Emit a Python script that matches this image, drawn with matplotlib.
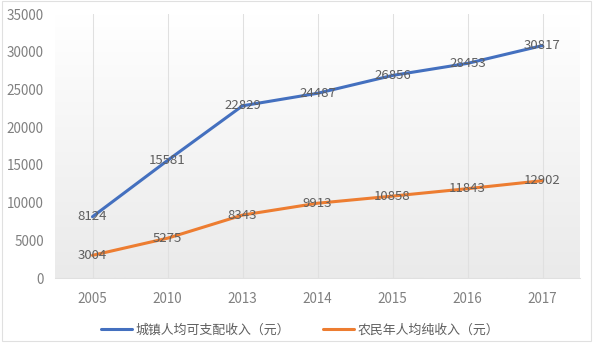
import numpy as np
import matplotlib
matplotlib.use("Agg")
import matplotlib.pyplot as plt
from matplotlib.patches import Rectangle


# ----------------------------------------------------------------------
# Data
# ----------------------------------------------------------------------
YEARS = ["2005", "2010", "2013", "2014", "2015", "2016", "2017"]
URBAN_INCOME = [8124, 15581, 22829, 24487, 26856, 28453, 30817]
RURAL_INCOME = [3004, 5275, 8343, 9913, 10858, 11843, 12902]
URBAN_LABEL = "城镇人均可支配收入（元）"
RURAL_LABEL = "农民年人均纯收入（元）"
Y_TICKS = [0, 5000, 10000, 15000, 20000, 25000, 30000, 35000]

BLUE = "#4470BF"
ORANGE = "#ED7D31"
TICK_COLOUR = "#808080"
LABEL_COLOUR = "#5F5F5F"
GRID_COLOUR = "#E0E0E0"

plt.rcParams["font.family"] = ["Noto Sans CJK SC", "DejaVu Sans"]


def main() -> None:
    fig = plt.figure(figsize=(6.0, 3.46), dpi=100)
    ax = fig.add_axes([55 / 600, 1 - 278 / 346, 525 / 600, 264 / 346])

    x = np.arange(len(YEARS))
    ax.set_xlim(-0.5, len(YEARS) - 0.5)
    ax.set_ylim(0, 35000)

    # plot area fill: white at the top fading to light grey at the bottom
    grad = np.linspace(1.0, 0.0, 256).reshape(-1, 1)
    ax.imshow(
        grad,
        extent=(-0.5, len(YEARS) - 0.5, 0, 35000),
        aspect="auto",
        cmap=matplotlib.colors.LinearSegmentedColormap.from_list(
            "plotfill", ["#EAEAEA", "#FFFFFF"]
        ),
        zorder=0,
    )

    for xi in x:
        ax.axvline(xi, color=GRID_COLOUR, linewidth=0.75, zorder=1)

    ax.plot(x, URBAN_INCOME, color=BLUE, linewidth=2.2, label=URBAN_LABEL,
            solid_capstyle="round", zorder=3)
    ax.plot(x, RURAL_INCOME, color=ORANGE, linewidth=2.2, label=RURAL_LABEL,
            solid_capstyle="round", zorder=3)

    for xi, v in zip(x, URBAN_INCOME):
        ax.text(xi, v, str(v), ha="center", va="center", fontsize=9.5,
                color=LABEL_COLOUR, zorder=4)
    for xi, v in zip(x, RURAL_INCOME):
        ax.text(xi, v, str(v), ha="center", va="center", fontsize=9.5,
                color=LABEL_COLOUR, zorder=4)

    ax.set_xticks(x)
    ax.set_xticklabels(YEARS)
    ax.set_yticks(Y_TICKS)
    ax.tick_params(axis="both", length=0, labelsize=9.7, labelcolor=TICK_COLOUR)
    ax.tick_params(axis="x", pad=10)
    ax.tick_params(axis="y", pad=8)

    for side in ("top", "right", "left"):
        ax.spines[side].set_visible(False)
    ax.spines["bottom"].set_color(GRID_COLOUR)
    ax.spines["bottom"].set_linewidth(0.75)

    leg = fig.legend(
        loc="center",
        bbox_to_anchor=(0.5, 1 - 330 / 346),
        ncol=2,
        frameon=False,
        fontsize=9.3,
        handlelength=2.4,
        handletextpad=0.3,
        columnspacing=2.5,
    )
    for text in leg.get_texts():
        text.set_color(LABEL_COLOUR)

    # chart area border
    fig.patches.append(
        Rectangle((2 / 600, 5 / 346), 589 / 600, 340 / 346,
                  transform=fig.transFigure, fill=False,
                  edgecolor=GRID_COLOUR, linewidth=0.8)
    )

    fig.savefig("out.png", dpi=100)
    plt.close(fig)


if __name__ == "__main__":
    main()
